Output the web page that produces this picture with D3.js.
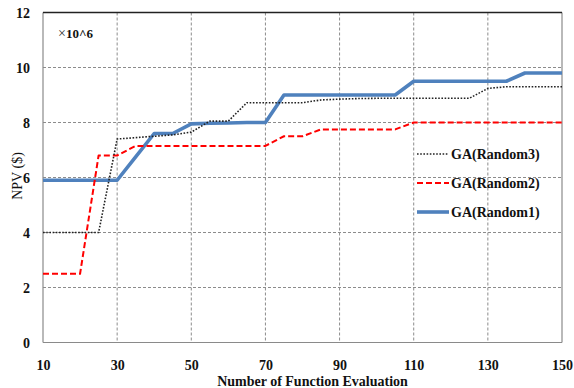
<!DOCTYPE html>
<html>
<head>
<meta charset="utf-8">
<script src="https://cdn.jsdelivr.net/npm/d3@7"></script>
<style>
  html, body { margin: 0; padding: 0; background: #fff; }
  svg { display: block; }
</style>
</head>
<body>
<svg id="chart" width="574" height="388"></svg>
<script>
// ---- data ----
const evals = [10,15,20,25,30,35,40,45,50,55,60,65,70,75,80,85,90,95,100,105,110,115,120,125,130,135,140,145,150];
const random1 = [5.9,5.9,5.9,5.9,5.9,6.75,7.6,7.6,7.95,7.97,7.98,8.0,8.0,9.0,9.0,9.0,9.0,9.0,9.0,9.0,9.5,9.5,9.5,9.5,9.5,9.5,9.8,9.8,9.8];
const random2 = [2.5,2.5,2.5,6.8,6.8,7.15,7.15,7.15,7.15,7.15,7.15,7.15,7.15,7.5,7.5,7.75,7.75,7.75,7.75,7.75,8.0,8.0,8.0,8.0,8.0,8.0,8.0,8.0,8.0];
const random3 = [4.0,4.0,4.0,4.0,7.4,7.45,7.5,7.55,7.65,8.05,8.05,8.72,8.72,8.72,8.72,8.82,8.85,8.87,8.88,8.88,8.88,8.88,8.88,8.88,9.24,9.3,9.3,9.3,9.3];
const xTicks = [10,30,50,70,90,110,130,150];
const yTicks = [0,2,4,6,8,10,12];
const seriesNames = ["GA(Random3)","GA(Random2)","GA(Random1)"];

// ---- layout ----
const svg = d3.select("#chart");
const L = 43, R = 562, T = 12.5, B = 342.5;
const x = d3.scaleLinear().domain([10,150]).range([L,R]);
const y = d3.scaleLinear().domain([0,12]).range([B,T]);
const serif = "'Liberation Serif','Times New Roman',serif";

// gridlines
const grid = svg.append("g");
grid.selectAll("line.h").data(yTicks.filter(d => d > 0 && d < 12)).enter().append("line")
  .attr("x1", L).attr("x2", R).attr("y1", d => y(d)).attr("y2", d => y(d))
  .attr("stroke", "#8c8c8c").attr("stroke-width", 1).attr("stroke-dasharray", "3,2");
grid.selectAll("line.v").data(xTicks.filter(d => d > 10 && d < 150)).enter().append("line")
  .attr("y1", T).attr("y2", B).attr("x1", d => x(d)).attr("x2", d => x(d))
  .attr("stroke", "#8c8c8c").attr("stroke-width", 1).attr("stroke-dasharray", "3,2");

// borders
svg.append("line").attr("x1", L).attr("x2", L).attr("y1", T).attr("y2", B).attr("stroke", "#8a8a8a").attr("stroke-width", 1.2);
svg.append("line").attr("x1", L).attr("x2", R).attr("y1", B).attr("y2", B).attr("stroke", "#8a8a8a").attr("stroke-width", 1.2);
svg.append("line").attr("x1", R).attr("x2", R).attr("y1", T).attr("y2", B).attr("stroke", "#8a8a8a").attr("stroke-width", 1.2);
svg.append("line").attr("x1", L).attr("x2", R).attr("y1", T).attr("y2", T).attr("stroke", "#222").attr("stroke-width", 1.5);

// axes (labels via d3 axes, no tick marks)
const xAxis = d3.axisBottom(x).tickValues(xTicks).tickSize(0).tickPadding(0).tickFormat(d3.format("d"));
const gx = svg.append("g").attr("transform", `translate(0,${B})`).call(xAxis);
gx.select(".domain").remove();
gx.selectAll("text").attr("y", 27).attr("dy", 0)
  .style("font-family", serif).style("font-weight", "bold").style("font-size", "14px").attr("fill", "#111");

const yAxis = d3.axisLeft(y).tickValues(yTicks).tickSize(0).tickPadding(0).tickFormat(d3.format("d"));
const gy = svg.append("g").attr("transform", `translate(30,0)`).call(yAxis);
gy.select(".domain").remove();
gy.selectAll("text").attr("x", 0).attr("dy", "0.35em")
  .style("font-family", serif).style("font-weight", "bold").style("font-size", "14px").attr("fill", "#111");

// axis titles
svg.append("text").attr("x", 312.5).attr("y", 386).attr("text-anchor", "middle")
  .style("font-family", serif).style("font-weight", "bold").style("font-size", "14px").attr("fill", "#111")
  .text("Number of Function Evaluation");
svg.append("text").attr("transform", "translate(22,176) rotate(-90)").attr("text-anchor", "middle")
  .style("font-family", serif).style("font-size", "14px").attr("fill", "#111")
  .text("NPV ($)");
const mult = svg.append("text").attr("x", 58).attr("y", 38)
  .style("font-family", serif).style("font-size", "13px").attr("fill", "#111");
mult.append("tspan").attr("fill", "#333").style("font-size", "14px").text("×");
mult.append("tspan").style("font-weight", "bold").text("10^6");

// lines
const pts = vals => evals.map((e, i) => [e, vals[i]]);
const line = d3.line().x(d => x(d[0])).y(d => y(d[1]));
const styles = [
  { vals: random1, stroke: "#4F81BD", width: 3.6, dash: null },
  { vals: random2, stroke: "#FF0000", width: 2, dash: "6,3" },
  { vals: random3, stroke: "#222", width: 1.6, dash: "1.6,1.6" }
];
styles.forEach(s => {
  svg.append("path").datum(pts(s.vals)).attr("d", line)
    .attr("fill", "none").attr("stroke", s.stroke).attr("stroke-width", s.width)
    .attr("stroke-linejoin", "round")
    .attr("stroke-dasharray", s.dash);
});

// legend
const legStyles = [styles[2], styles[1], styles[0]];
const legY = [154, 183, 212];
seriesNames.forEach((name, i) => {
  const s = legStyles[i];
  svg.append("line").attr("x1", 417).attr("x2", 449).attr("y1", legY[i]).attr("y2", legY[i])
    .attr("stroke", s.stroke).attr("stroke-width", s.width).attr("stroke-dasharray", s.dash);
  svg.append("text").attr("x", 451).attr("y", legY[i]).attr("dy", "0.35em")
    .style("font-family", serif).style("font-weight", "bold").style("font-size", "14px").attr("fill", "#111")
    .text(name);
});
</script>
</body>
</html>
